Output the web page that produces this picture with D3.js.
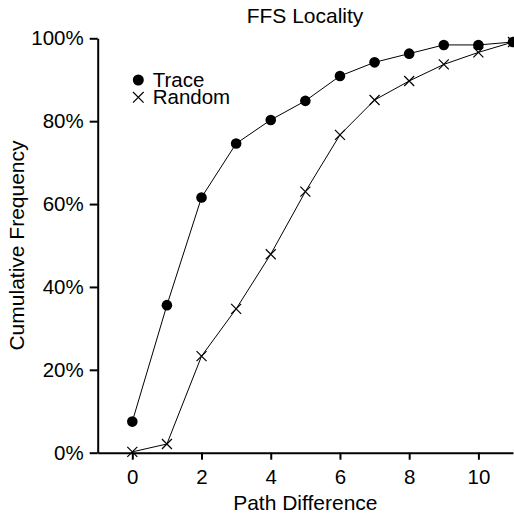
<!DOCTYPE html>
<html>

<head>
    <meta charset="UTF-8">
    <style>
        body {
            margin: 0;
            background: white;
        }

        svg text {
            font-family: "Liberation Sans", Arial, Helvetica, sans-serif;
            fill: black;
        }

        .axis path,
        .axis line {
            stroke: black;
            stroke-width: 2px;
        }

        .series {
            fill: none;
            stroke: black;
            stroke-width: 1px;
        }
    </style>
</head>

<body>
    <svg></svg>
    <script src="https://d3js.org/d3.v7.min.js"></script>

    <script>

        // values
        let pathDiff = [0, 1, 2, 3, 4, 5, 6, 7, 8, 9, 10, 11];
        let trace = [7.5, 35.6, 61.6, 74.6, 80.3, 84.9, 90.9, 94.2, 96.3, 98.4, 98.4, 99.1];
        let random = [0.2, 2.1, 23.3, 34.7, 47.9, 63.0, 76.7, 85.1, 89.7, 93.7, 96.6, 99.1];
        let xTicks = [0, 2, 4, 6, 8, 10];
        let yTicks = [0, 20, 40, 60, 80, 100];
        let seriesNames = ["Trace", "Random"];

        let width = 514, height = 516;

        let svg = d3.select("svg")
            .attr("width", width)
            .attr("height", height);

        let x = d3.scaleLinear().domain([-1, 11]).range([97.7, 513]);
        let y = d3.scaleLinear().domain([0, 100]).range([452.7, 38.3]);

        // title
        svg.append("text")
            .attr("x", 305)
            .attr("y", 23.3)
            .attr("text-anchor", "middle")
            .style("font-size", "21px")
            .text("FFS Locality");

        // axes
        let xAxis = d3.axisBottom(x)
            .tickValues(xTicks)
            .tickSize(7)
            .tickSizeOuter(0)
            .tickPadding(10)
            .tickFormat(d3.format("d"));

        svg.append("g")
            .attr("class", "axis")
            .attr("transform", "translate(0," + y(0) + ")")
            .call(xAxis)
            .call(g => g.selectAll("text").style("font-size", "20.5px"));

        let yAxis = d3.axisLeft(y)
            .tickValues(yTicks)
            .tickSize(8)
            .tickSizeOuter(0)
            .tickPadding(6)
            .tickFormat(d => d + "%");

        svg.append("g")
            .attr("class", "axis")
            .attr("transform", "translate(" + x(-1) + ",0)")
            .call(yAxis)
            .call(g => g.selectAll("text").style("font-size", "20.5px"));

        // axis titles
        svg.append("text")
            .attr("x", (x(-1) + x(11)) / 2)
            .attr("y", 509.5)
            .attr("text-anchor", "middle")
            .style("font-size", "21px")
            .text("Path Difference");

        svg.append("text")
            .attr("transform", "translate(23.5," + (y(0) + y(100)) / 2 + ") rotate(-90)")
            .attr("text-anchor", "middle")
            .style("font-size", "21px")
            .text("Cumulative Frequency");

        let line = d3.line()
            .x((d, i) => x(pathDiff[i]))
            .y(d => y(d));

        // Trace series: line + filled dots
        svg.append("path")
            .attr("class", "series")
            .attr("d", line(trace));

        svg.append("g")
            .selectAll("circle")
            .data(trace)
            .enter()
            .append("circle")
            .attr("cx", (d, i) => x(pathDiff[i]))
            .attr("cy", d => y(d))
            .attr("r", 5.3)
            .attr("fill", "black");

        // Random series: line + crosses
        svg.append("path")
            .attr("class", "series")
            .attr("d", line(random));

        let cross = function (cx, cy, s) {
            return "M" + (cx - s) + "," + (cy - s) + "L" + (cx + s) + "," + (cy + s) +
                "M" + (cx - s) + "," + (cy + s) + "L" + (cx + s) + "," + (cy - s);
        }

        svg.append("g")
            .selectAll("path")
            .data(random)
            .enter()
            .append("path")
            .attr("d", (d, i) => cross(x(pathDiff[i]), y(d), 5))
            .attr("stroke", "black")
            .attr("stroke-width", 1.2)
            .attr("fill", "none");

        // legend
        let legend = svg.append("g").attr("transform", "translate(138.3,80)");

        legend.append("circle")
            .attr("cx", 0)
            .attr("cy", 0)
            .attr("r", 5.5)
            .attr("fill", "black");

        legend.append("path")
            .attr("d", cross(0, 17.3, 5.3))
            .attr("stroke", "black")
            .attr("stroke-width", 1.2);

        legend.selectAll("text")
            .data(seriesNames)
            .enter()
            .append("text")
            .attr("x", 14.4)
            .attr("y", (d, i) => 7.3 + i * 16.7)
            .style("font-size", "20.5px")
            .text(d => d);

    </script>

</body>

</html>
